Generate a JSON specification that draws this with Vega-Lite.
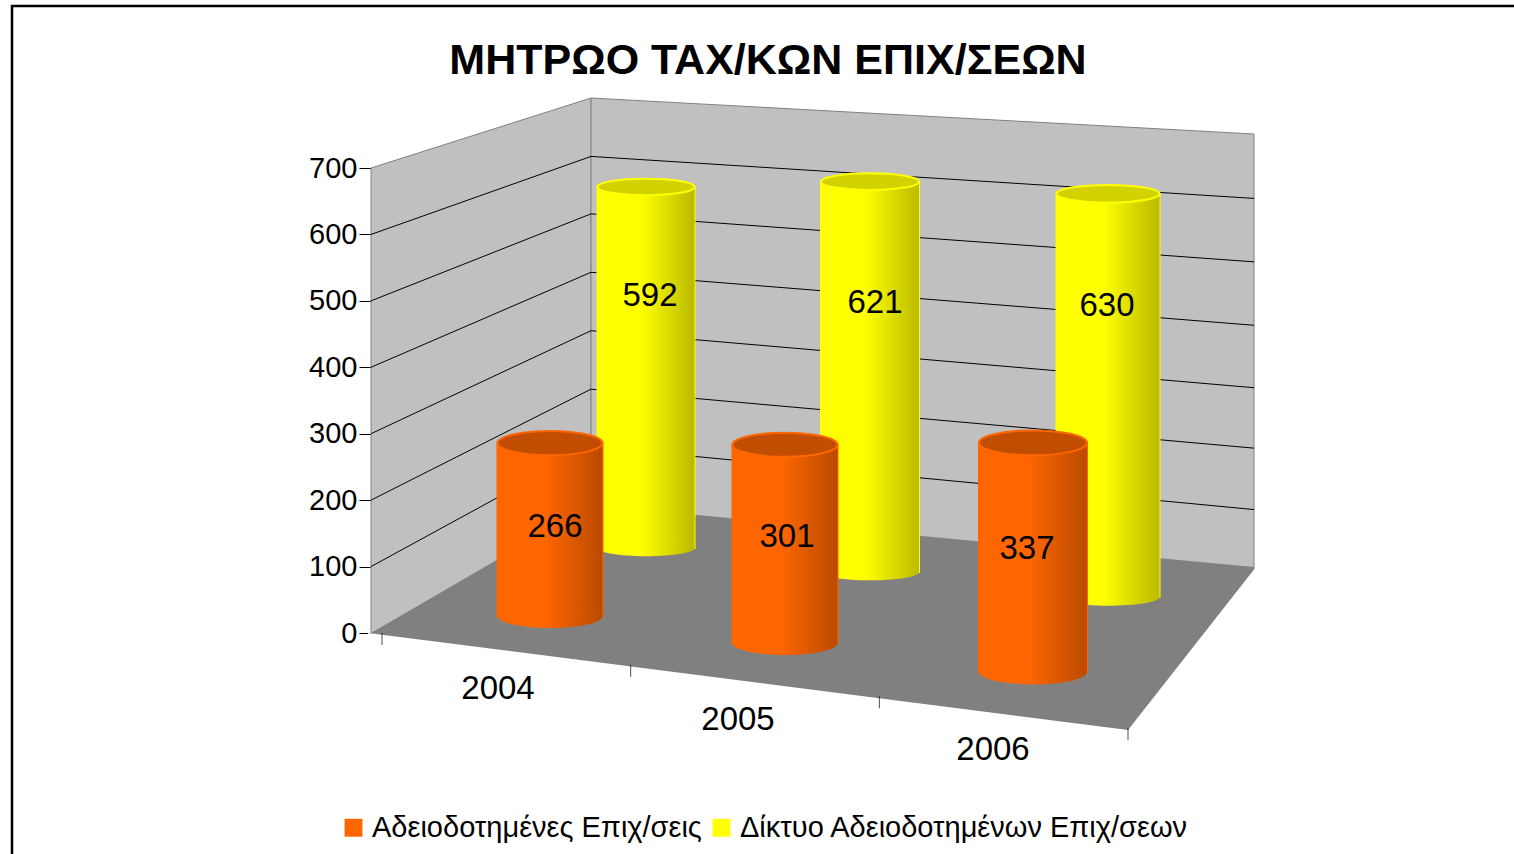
{"$schema":"https://vega.github.io/schema/vega-lite/v6.json","width":1504,"height":850,"padding":{"left":12,"top":6,"right":0,"bottom":0},"background":"white","config":{"view":{"stroke":"#000000","strokeWidth":2.5,"fill":"white"},"font":"Liberation Sans"},"title":{"text":"ΜΗΤΡΩΟ ΤΑΧ/ΚΩΝ ΕΠΙΧ/ΣΕΩΝ","font":"Liberation Sans","fontSize":43,"fontWeight":"bold","color":"#000000","offset":-77,"dx":4,"anchor":"middle"},"datasets":{"v":[{"series":"Αδειοδοτημένες Επιχ/σεις","year":"2004","value":266},{"series":"Αδειοδοτημένες Επιχ/σεις","year":"2005","value":301},{"series":"Αδειοδοτημένες Επιχ/σεις","year":"2006","value":337},{"series":"Δίκτυο Αδειοδοτημένων Επιχ/σεων","year":"2004","value":592},{"series":"Δίκτυο Αδειοδοτημένων Επιχ/σεων","year":"2005","value":621},{"series":"Δίκτυο Αδειοδοτημένων Επιχ/σεων","year":"2006","value":630}],"left":[{"edge":"F"},{"edge":"B"}],"back":[{"edge":"B"},{"edge":"R"}],"front":[{"edge":"F"},{"edge":"D"}],"side":[{"edge":"D"},{"edge":"R"}],"years":[{"year":"2004"},{"year":"2005"},{"year":"2006"}],"bounds":[{"b":"a"},{"b":"b"},{"b":"c"},{"b":"d"}]},"data":{"name":"v"},"resolve":{"scale":{"x":"independent","y":"independent","yOffset":"independent"},"axis":{"x":"independent","y":"independent"}},"layer":[
{"data":{"name":"left"},"mark":{"type":"area","color":"#C0C0C0","stroke":"#808080"},"encoding":{"x":{"field":"edge","type":"nominal","axis":null,"scale":{"type":"point","padding":0,"domain":["F","B"],"range":[359,579]}},"y":{"datum":700,"type":"quantitative","scale":{"domain":[0,700],"range":[627,162]},"axis":{"title":null,"offset":-359,"values":[0,100,200,300,400,500,600,700],"labelFontSize":29,"labelFont":"Liberation Sans","labelColor":"#000000","domainColor":"#808080","tickColor":"#000000","tickSize":12,"grid":false}},"y2":{"datum":-50},"yOffset":{"field":"edge","type":"nominal","scale":{"type":"point","padding":0,"domain":["F","B"],"range":[0,-70]}}}},
{"data":{"name":"back"},"mark":{"type":"area","color":"#C0C0C0","stroke":"#808080"},"encoding":{"x":{"field":"edge","type":"nominal","axis":null,"scale":{"type":"point","padding":0,"domain":["B","R"],"range":[579,1242]}},"y":{"datum":700,"type":"quantitative","axis":null,"scale":{"domain":[0,700],"range":[627,162]}},"y2":{"datum":-50},"yOffset":{"field":"edge","type":"nominal","scale":{"type":"point","padding":0,"domain":["B","R"],"range":[-70,-34]}}}},
{"data":{"name":"left"},"mark":{"type":"area","color":"#808080"},"encoding":{"x":{"field":"edge","type":"nominal","axis":null,"scale":{"type":"point","padding":0,"domain":["F","B"],"range":[359,579]}},"y":{"datum":0,"type":"quantitative","axis":null,"scale":{"domain":[0,700],"range":[627,162]}},"y2":{"datum":-180},"yOffset":{"field":"edge","type":"nominal","scale":{"type":"point","padding":0,"domain":["F","B"],"range":[0,-128]}}}},
{"data":{"name":"back"},"mark":{"type":"area","color":"#808080"},"encoding":{"x":{"field":"edge","type":"nominal","axis":null,"scale":{"type":"point","padding":0,"domain":["B","R"],"range":[579,1242]}},"y":{"datum":0,"type":"quantitative","axis":null,"scale":{"domain":[0,700],"range":[627,162]}},"y2":{"datum":-180},"yOffset":{"field":"edge","type":"nominal","scale":{"type":"point","padding":0,"domain":["B","R"],"range":[-128,-66]}}}},
{"data":{"name":"front"},"mark":{"type":"area","color":"#FFFFFF"},"encoding":{"x":{"field":"edge","type":"nominal","axis":null,"scale":{"type":"point","padding":0,"domain":["F","D"],"range":[356,1116]}},"y":{"datum":0,"type":"quantitative","axis":null,"scale":{"domain":[0,700],"range":[627,162]}},"y2":{"datum":-185},"yOffset":{"field":"edge","type":"nominal","scale":{"type":"point","padding":0,"domain":["F","D"],"range":[0,97]}}}},
{"data":{"name":"side"},"mark":{"type":"area","color":"#FFFFFF"},"encoding":{"x":{"field":"edge","type":"nominal","axis":null,"scale":{"type":"point","padding":0,"domain":["D","R"],"range":[1116,1244]}},"y":{"datum":0,"type":"quantitative","axis":null,"scale":{"domain":[0,700],"range":[627,162]}},"y2":{"datum":-185},"yOffset":{"field":"edge","type":"nominal","scale":{"type":"point","padding":0,"domain":["D","R"],"range":[97,-66]}}}},
{"data":{"name":"bounds"},"mark":{"type":"tick","orient":"vertical","color":"#000000","size":12,"thickness":1},"encoding":{"x":{"field":"b","type":"nominal","axis":null,"scale":{"type":"point","padding":0,"range":[370,1116]}},"y":{"field":"b","type":"nominal","axis":null,"scale":{"type":"point","padding":0,"range":[633,728]}}}},
{"data":{"name":"left"},"mark":{"type":"line","color":"#000000","strokeWidth":1},"encoding":{"x":{"field":"edge","type":"nominal","axis":null,"scale":{"type":"point","padding":0,"domain":["F","B"],"range":[359,579]}},"y":{"datum":100,"type":"quantitative","axis":null,"scale":{"domain":[0,700],"range":[627,162]}},"yOffset":{"field":"edge","type":"nominal","scale":{"type":"point","padding":0,"domain":["F","B"],"range":[0,-120]}}}},
{"data":{"name":"left"},"mark":{"type":"line","color":"#000000","strokeWidth":1},"encoding":{"x":{"field":"edge","type":"nominal","axis":null,"scale":{"type":"point","padding":0,"domain":["F","B"],"range":[359,579]}},"y":{"datum":200,"type":"quantitative","axis":null,"scale":{"domain":[0,700],"range":[627,162]}},"yOffset":{"field":"edge","type":"nominal","scale":{"type":"point","padding":0,"domain":["F","B"],"range":[0,-111]}}}},
{"data":{"name":"left"},"mark":{"type":"line","color":"#000000","strokeWidth":1},"encoding":{"x":{"field":"edge","type":"nominal","axis":null,"scale":{"type":"point","padding":0,"domain":["F","B"],"range":[359,579]}},"y":{"datum":300,"type":"quantitative","axis":null,"scale":{"domain":[0,700],"range":[627,162]}},"yOffset":{"field":"edge","type":"nominal","scale":{"type":"point","padding":0,"domain":["F","B"],"range":[0,-103]}}}},
{"data":{"name":"left"},"mark":{"type":"line","color":"#000000","strokeWidth":1},"encoding":{"x":{"field":"edge","type":"nominal","axis":null,"scale":{"type":"point","padding":0,"domain":["F","B"],"range":[359,579]}},"y":{"datum":400,"type":"quantitative","axis":null,"scale":{"domain":[0,700],"range":[627,162]}},"yOffset":{"field":"edge","type":"nominal","scale":{"type":"point","padding":0,"domain":["F","B"],"range":[0,-95]}}}},
{"data":{"name":"left"},"mark":{"type":"line","color":"#000000","strokeWidth":1},"encoding":{"x":{"field":"edge","type":"nominal","axis":null,"scale":{"type":"point","padding":0,"domain":["F","B"],"range":[359,579]}},"y":{"datum":500,"type":"quantitative","axis":null,"scale":{"domain":[0,700],"range":[627,162]}},"yOffset":{"field":"edge","type":"nominal","scale":{"type":"point","padding":0,"domain":["F","B"],"range":[0,-87]}}}},
{"data":{"name":"left"},"mark":{"type":"line","color":"#000000","strokeWidth":1},"encoding":{"x":{"field":"edge","type":"nominal","axis":null,"scale":{"type":"point","padding":0,"domain":["F","B"],"range":[359,579]}},"y":{"datum":600,"type":"quantitative","axis":null,"scale":{"domain":[0,700],"range":[627,162]}},"yOffset":{"field":"edge","type":"nominal","scale":{"type":"point","padding":0,"domain":["F","B"],"range":[0,-78]}}}},
{"data":{"name":"back"},"mark":{"type":"line","color":"#000000","strokeWidth":1},"encoding":{"x":{"field":"edge","type":"nominal","axis":null,"scale":{"type":"point","padding":0,"domain":["B","R"],"range":[579,1242]}},"y":{"datum":100,"type":"quantitative","axis":null,"scale":{"domain":[0,700],"range":[627,162]}},"yOffset":{"field":"edge","type":"nominal","scale":{"type":"point","padding":0,"domain":["B","R"],"range":[-120,-57]}}}},
{"data":{"name":"back"},"mark":{"type":"line","color":"#000000","strokeWidth":1},"encoding":{"x":{"field":"edge","type":"nominal","axis":null,"scale":{"type":"point","padding":0,"domain":["B","R"],"range":[579,1242]}},"y":{"datum":200,"type":"quantitative","axis":null,"scale":{"domain":[0,700],"range":[627,162]}},"yOffset":{"field":"edge","type":"nominal","scale":{"type":"point","padding":0,"domain":["B","R"],"range":[-111,-52]}}}},
{"data":{"name":"back"},"mark":{"type":"line","color":"#000000","strokeWidth":1},"encoding":{"x":{"field":"edge","type":"nominal","axis":null,"scale":{"type":"point","padding":0,"domain":["B","R"],"range":[579,1242]}},"y":{"datum":300,"type":"quantitative","axis":null,"scale":{"domain":[0,700],"range":[627,162]}},"yOffset":{"field":"edge","type":"nominal","scale":{"type":"point","padding":0,"domain":["B","R"],"range":[-103,-46]}}}},
{"data":{"name":"back"},"mark":{"type":"line","color":"#000000","strokeWidth":1},"encoding":{"x":{"field":"edge","type":"nominal","axis":null,"scale":{"type":"point","padding":0,"domain":["B","R"],"range":[579,1242]}},"y":{"datum":400,"type":"quantitative","axis":null,"scale":{"domain":[0,700],"range":[627,162]}},"yOffset":{"field":"edge","type":"nominal","scale":{"type":"point","padding":0,"domain":["B","R"],"range":[-95,-42]}}}},
{"data":{"name":"back"},"mark":{"type":"line","color":"#000000","strokeWidth":1},"encoding":{"x":{"field":"edge","type":"nominal","axis":null,"scale":{"type":"point","padding":0,"domain":["B","R"],"range":[579,1242]}},"y":{"datum":500,"type":"quantitative","axis":null,"scale":{"domain":[0,700],"range":[627,162]}},"yOffset":{"field":"edge","type":"nominal","scale":{"type":"point","padding":0,"domain":["B","R"],"range":[-87,-39]}}}},
{"data":{"name":"back"},"mark":{"type":"line","color":"#000000","strokeWidth":1},"encoding":{"x":{"field":"edge","type":"nominal","axis":null,"scale":{"type":"point","padding":0,"domain":["B","R"],"range":[579,1242]}},"y":{"datum":600,"type":"quantitative","axis":null,"scale":{"domain":[0,700],"range":[627,162]}},"yOffset":{"field":"edge","type":"nominal","scale":{"type":"point","padding":0,"domain":["B","R"],"range":[-78,-36]}}}},
{"data":{"name":"years"},"transform":[{"filter":"datum.year!='2005'"}],"mark":{"type":"text","fontSize":33,"font":"Liberation Sans","color":"#000000"},"encoding":{"text":{"field":"year"},"x":{"field":"year","type":"ordinal","axis":null,"scale":{"type":"point","padding":0,"domain":["2004","2005","2006"],"range":[486,981]}},"y":{"field":"year","type":"ordinal","axis":null,"scale":{"type":"point","padding":0,"domain":["2004","2005","2006"],"range":[683,744]}}}},
{"data":{"name":"years"},"transform":[{"filter":"datum.year=='2005'"}],"mark":{"type":"text","fontSize":33,"font":"Liberation Sans","color":"#000000"},"encoding":{"text":{"field":"year"},"x":{"field":"year","type":"ordinal","axis":null,"scale":{"type":"point","padding":0,"domain":["2004","2005","2006"],"range":[478,974]}},"y":{"field":"year","type":"ordinal","axis":null,"scale":{"type":"point","padding":0,"domain":["2004","2005","2006"],"range":[683,744]}}}},
{"transform":[{"filter":"datum.year=='2004' && datum.value>400"}],"encoding":{"x":{"field":"year","type":"ordinal","axis":null,"scale":{"type":"point","padding":0,"domain":["2004","2005","2006"],"range":[634,1096]}},"y":{"field":"value","type":"quantitative","axis":null,"stack":null,"scale":{"domain":[0,700],"range":[542,115]}}},"layer":[
{"mark":{"type":"bar","width":97,"stroke":"#FFFF00","strokeWidth":2},"encoding":{"color":{"field":"series","type":"nominal","scale":{"domain":["Αδειοδοτημένες Επιχ/σεις","Δίκτυο Αδειοδοτημένων Επιχ/σεων"],"range":["#FF6600","#FFFF00"]},"legend":{"title":null,"orient":"none","legendX":327,"legendY":807,"direction":"horizontal","symbolType":"square","symbolSize":320,"symbolStrokeWidth":0,"labelFontSize":29,"labelFont":"Liberation Sans","labelColor":"#000000","labelLimit":700,"columnPadding":5}}}},
{"mark":{"type":"bar","width":97,"stroke":null,"fill":{"x1":0,"x2":1,"y1":0,"y2":0,"gradient":"linear","stops":[{"offset":0,"color":"rgba(0,0,0,0)"},{"offset":0.45,"color":"rgba(0,0,0,0)"},{"offset":1,"color":"rgba(0,0,0,0.27)"}]}}},
{"mark":{"type":"point","filled":true,"opacity":1,"size":9409,"shape":"M-1,0 A1,0.17 0 1,0 1,0 A1,0.17 0 1,0 -1,0 Z","stroke":null},"encoding":{"y":{"datum":0,"type":"quantitative"},"color":{"field":"series","type":"nominal"}}},
{"mark":{"type":"point","filled":true,"opacity":1,"size":9409,"shape":"M-1,0 A1,0.17 0 1,0 1,0 A1,0.17 0 1,0 -1,0 Z","fill":{"x1":0,"x2":1,"y1":0,"y2":0,"gradient":"linear","stops":[{"offset":0,"color":"rgba(0,0,0,0)"},{"offset":0.45,"color":"rgba(0,0,0,0)"},{"offset":1,"color":"rgba(0,0,0,0.27)"}]},"stroke":null},"encoding":{"y":{"datum":0,"type":"quantitative"}}},
{"mark":{"type":"point","filled":true,"opacity":1,"size":9409,"shape":"M-1,0 A1,0.17 0 1,0 1,0 A1,0.17 0 1,0 -1,0 Z","fill":"#D2D200","stroke":"#FFFF00","strokeWidth":2}},
{"mark":{"type":"text","fontSize":33,"font":"Liberation Sans","color":"#000000","dy":109,"dx":4},"encoding":{"text":{"field":"value"}}}]},
{"transform":[{"filter":"datum.year=='2005' && datum.value>400"}],"encoding":{"x":{"field":"year","type":"ordinal","axis":null,"scale":{"type":"point","padding":0,"domain":["2004","2005","2006"],"range":[627,1089]}},"y":{"field":"value","type":"quantitative","axis":null,"stack":null,"scale":{"domain":[0,700],"range":[566,126]}}},"layer":[
{"mark":{"type":"bar","width":98,"stroke":"#FFFF00","strokeWidth":2},"encoding":{"color":{"field":"series","type":"nominal"}}},
{"mark":{"type":"bar","width":98,"stroke":null,"fill":{"x1":0,"x2":1,"y1":0,"y2":0,"gradient":"linear","stops":[{"offset":0,"color":"rgba(0,0,0,0)"},{"offset":0.45,"color":"rgba(0,0,0,0)"},{"offset":1,"color":"rgba(0,0,0,0.27)"}]}}},
{"mark":{"type":"point","filled":true,"opacity":1,"size":9604,"shape":"M-1,0 A1,0.17 0 1,0 1,0 A1,0.17 0 1,0 -1,0 Z","stroke":null},"encoding":{"y":{"datum":0,"type":"quantitative"},"color":{"field":"series","type":"nominal"}}},
{"mark":{"type":"point","filled":true,"opacity":1,"size":9604,"shape":"M-1,0 A1,0.17 0 1,0 1,0 A1,0.17 0 1,0 -1,0 Z","fill":{"x1":0,"x2":1,"y1":0,"y2":0,"gradient":"linear","stops":[{"offset":0,"color":"rgba(0,0,0,0)"},{"offset":0.45,"color":"rgba(0,0,0,0)"},{"offset":1,"color":"rgba(0,0,0,0.27)"}]},"stroke":null},"encoding":{"y":{"datum":0,"type":"quantitative"}}},
{"mark":{"type":"point","filled":true,"opacity":1,"size":9604,"shape":"M-1,0 A1,0.17 0 1,0 1,0 A1,0.17 0 1,0 -1,0 Z","fill":"#D2D200","stroke":"#FFFF00","strokeWidth":2}},
{"mark":{"type":"text","fontSize":33,"font":"Liberation Sans","color":"#000000","dy":121,"dx":5},"encoding":{"text":{"field":"value"}}}]},
{"transform":[{"filter":"datum.year=='2006' && datum.value>400"}],"encoding":{"x":{"field":"year","type":"ordinal","axis":null,"scale":{"type":"point","padding":0,"domain":["2004","2005","2006"],"range":[634,1096]}},"y":{"field":"value","type":"quantitative","axis":null,"stack":null,"scale":{"domain":[0,700],"range":[591,143]}}},"layer":[
{"mark":{"type":"bar","width":103,"stroke":"#FFFF00","strokeWidth":2},"encoding":{"color":{"field":"series","type":"nominal"}}},
{"mark":{"type":"bar","width":103,"stroke":null,"fill":{"x1":0,"x2":1,"y1":0,"y2":0,"gradient":"linear","stops":[{"offset":0,"color":"rgba(0,0,0,0)"},{"offset":0.45,"color":"rgba(0,0,0,0)"},{"offset":1,"color":"rgba(0,0,0,0.27)"}]}}},
{"mark":{"type":"point","filled":true,"opacity":1,"size":10609,"shape":"M-1,0 A1,0.17 0 1,0 1,0 A1,0.17 0 1,0 -1,0 Z","stroke":null},"encoding":{"y":{"datum":0,"type":"quantitative"},"color":{"field":"series","type":"nominal"}}},
{"mark":{"type":"point","filled":true,"opacity":1,"size":10609,"shape":"M-1,0 A1,0.17 0 1,0 1,0 A1,0.17 0 1,0 -1,0 Z","fill":{"x1":0,"x2":1,"y1":0,"y2":0,"gradient":"linear","stops":[{"offset":0,"color":"rgba(0,0,0,0)"},{"offset":0.45,"color":"rgba(0,0,0,0)"},{"offset":1,"color":"rgba(0,0,0,0.27)"}]},"stroke":null},"encoding":{"y":{"datum":0,"type":"quantitative"}}},
{"mark":{"type":"point","filled":true,"opacity":1,"size":10609,"shape":"M-1,0 A1,0.17 0 1,0 1,0 A1,0.17 0 1,0 -1,0 Z","fill":"#D2D200","stroke":"#FFFF00","strokeWidth":2}},
{"mark":{"type":"text","fontSize":33,"font":"Liberation Sans","color":"#000000","dy":112,"dx":-1},"encoding":{"text":{"field":"value"}}}]},
{"transform":[{"filter":"datum.year=='2004' && datum.value<400"}],"encoding":{"x":{"field":"year","type":"ordinal","axis":null,"scale":{"type":"point","padding":0,"domain":["2004","2005","2006"],"range":[538,1021]}},"y":{"field":"value","type":"quantitative","axis":null,"stack":null,"scale":{"domain":[0,700],"range":[610,155]}}},"layer":[
{"mark":{"type":"bar","width":105,"stroke":"#FF6600","strokeWidth":2},"encoding":{"color":{"field":"series","type":"nominal"}}},
{"mark":{"type":"bar","width":105,"stroke":null,"fill":{"x1":0,"x2":1,"y1":0,"y2":0,"gradient":"linear","stops":[{"offset":0,"color":"rgba(0,0,0,0)"},{"offset":0.45,"color":"rgba(0,0,0,0)"},{"offset":1,"color":"rgba(0,0,0,0.27)"}]}}},
{"mark":{"type":"point","filled":true,"opacity":1,"size":11025,"shape":"M-1,0 A1,0.23 0 1,0 1,0 A1,0.23 0 1,0 -1,0 Z","stroke":null},"encoding":{"y":{"datum":0,"type":"quantitative"},"color":{"field":"series","type":"nominal"}}},
{"mark":{"type":"point","filled":true,"opacity":1,"size":11025,"shape":"M-1,0 A1,0.23 0 1,0 1,0 A1,0.23 0 1,0 -1,0 Z","fill":{"x1":0,"x2":1,"y1":0,"y2":0,"gradient":"linear","stops":[{"offset":0,"color":"rgba(0,0,0,0)"},{"offset":0.45,"color":"rgba(0,0,0,0)"},{"offset":1,"color":"rgba(0,0,0,0.27)"}]},"stroke":null},"encoding":{"y":{"datum":0,"type":"quantitative"}}},
{"mark":{"type":"point","filled":true,"opacity":1,"size":11025,"shape":"M-1,0 A1,0.23 0 1,0 1,0 A1,0.23 0 1,0 -1,0 Z","fill":"#C04D00","stroke":"#FF6600","strokeWidth":2}},
{"mark":{"type":"text","fontSize":33,"font":"Liberation Sans","color":"#000000","dy":84,"dx":5},"encoding":{"text":{"field":"value"}}}]},
{"transform":[{"filter":"datum.year=='2005' && datum.value<400"}],"encoding":{"x":{"field":"year","type":"ordinal","axis":null,"scale":{"type":"point","padding":0,"domain":["2004","2005","2006"],"range":[532,1014]}},"y":{"field":"value","type":"quantitative","axis":null,"stack":null,"scale":{"domain":[0,700],"range":[637,176]}}},"layer":[
{"mark":{"type":"bar","width":105,"stroke":"#FF6600","strokeWidth":2},"encoding":{"color":{"field":"series","type":"nominal"}}},
{"mark":{"type":"bar","width":105,"stroke":null,"fill":{"x1":0,"x2":1,"y1":0,"y2":0,"gradient":"linear","stops":[{"offset":0,"color":"rgba(0,0,0,0)"},{"offset":0.45,"color":"rgba(0,0,0,0)"},{"offset":1,"color":"rgba(0,0,0,0.27)"}]}}},
{"mark":{"type":"point","filled":true,"opacity":1,"size":11025,"shape":"M-1,0 A1,0.23 0 1,0 1,0 A1,0.23 0 1,0 -1,0 Z","stroke":null},"encoding":{"y":{"datum":0,"type":"quantitative"},"color":{"field":"series","type":"nominal"}}},
{"mark":{"type":"point","filled":true,"opacity":1,"size":11025,"shape":"M-1,0 A1,0.23 0 1,0 1,0 A1,0.23 0 1,0 -1,0 Z","fill":{"x1":0,"x2":1,"y1":0,"y2":0,"gradient":"linear","stops":[{"offset":0,"color":"rgba(0,0,0,0)"},{"offset":0.45,"color":"rgba(0,0,0,0)"},{"offset":1,"color":"rgba(0,0,0,0.27)"}]},"stroke":null},"encoding":{"y":{"datum":0,"type":"quantitative"}}},
{"mark":{"type":"point","filled":true,"opacity":1,"size":11025,"shape":"M-1,0 A1,0.23 0 1,0 1,0 A1,0.23 0 1,0 -1,0 Z","fill":"#C04D00","stroke":"#FF6600","strokeWidth":2}},
{"mark":{"type":"text","fontSize":33,"font":"Liberation Sans","color":"#000000","dy":92,"dx":2},"encoding":{"text":{"field":"value"}}}]},
{"transform":[{"filter":"datum.year=='2006' && datum.value<400"}],"encoding":{"x":{"field":"year","type":"ordinal","axis":null,"scale":{"type":"point","padding":0,"domain":["2004","2005","2006"],"range":[538,1021]}},"y":{"field":"value","type":"quantitative","axis":null,"stack":null,"scale":{"domain":[0,700],"range":[666,190]}}},"layer":[
{"mark":{"type":"bar","width":108,"stroke":"#FF6600","strokeWidth":2},"encoding":{"color":{"field":"series","type":"nominal"}}},
{"mark":{"type":"bar","width":108,"stroke":null,"fill":{"x1":0,"x2":1,"y1":0,"y2":0,"gradient":"linear","stops":[{"offset":0,"color":"rgba(0,0,0,0)"},{"offset":0.45,"color":"rgba(0,0,0,0)"},{"offset":1,"color":"rgba(0,0,0,0.27)"}]}}},
{"mark":{"type":"point","filled":true,"opacity":1,"size":11664,"shape":"M-1,0 A1,0.23 0 1,0 1,0 A1,0.23 0 1,0 -1,0 Z","stroke":null},"encoding":{"y":{"datum":0,"type":"quantitative"},"color":{"field":"series","type":"nominal"}}},
{"mark":{"type":"point","filled":true,"opacity":1,"size":11664,"shape":"M-1,0 A1,0.23 0 1,0 1,0 A1,0.23 0 1,0 -1,0 Z","fill":{"x1":0,"x2":1,"y1":0,"y2":0,"gradient":"linear","stops":[{"offset":0,"color":"rgba(0,0,0,0)"},{"offset":0.45,"color":"rgba(0,0,0,0)"},{"offset":1,"color":"rgba(0,0,0,0.27)"}]},"stroke":null},"encoding":{"y":{"datum":0,"type":"quantitative"}}},
{"mark":{"type":"point","filled":true,"opacity":1,"size":11664,"shape":"M-1,0 A1,0.23 0 1,0 1,0 A1,0.23 0 1,0 -1,0 Z","fill":"#C04D00","stroke":"#FF6600","strokeWidth":2}},
{"mark":{"type":"text","fontSize":33,"font":"Liberation Sans","color":"#000000","dy":106,"dx":-6},"encoding":{"text":{"field":"value"}}}]}
]}
